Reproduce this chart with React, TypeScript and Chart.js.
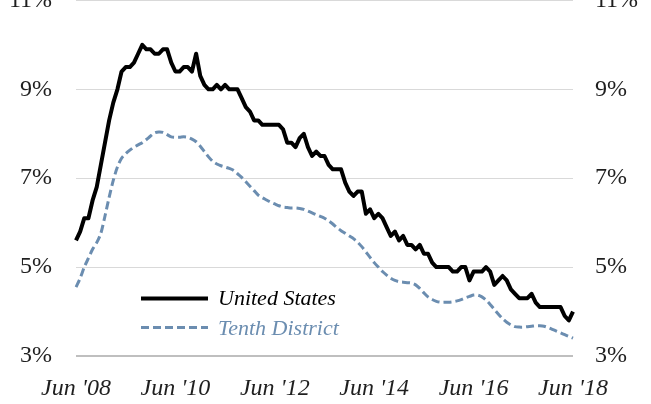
import { useEffect, useRef } from 'react';
import { Chart, registerables } from 'chart.js';

Chart.register(...registerables);

const MONTHS = ['Jan', 'Feb', 'Mar', 'Apr', 'May', 'Jun', 'Jul', 'Aug', 'Sep', 'Oct', 'Nov', 'Dec'];

// Monthly categories Jun 2008 .. Jun 2018
const categories: string[] = [];
for (let i = 0; i < 121; i++) {
  const m = (5 + i) % 12;
  const y = 2008 + Math.floor((5 + i) / 12);
  categories.push(`${MONTHS[m]} '${String(y % 100).padStart(2, '0')}`);
}

const tickLabels = ["Jun '08", "Jun '10", "Jun '12", "Jun '14", "Jun '16", "Jun '18"];
const yTicks = [3, 5, 7, 9, 11];

const unitedStates = [
  5.6, 5.8, 6.1, 6.1, 6.5, 6.8, 7.3,
  7.8, 8.3, 8.7, 9.0, 9.4, 9.5, 9.5, 9.6, 9.8, 10.0, 9.9, 9.9,
  9.8, 9.8, 9.9, 9.9, 9.6, 9.4, 9.4, 9.5, 9.5, 9.4, 9.8, 9.3,
  9.1, 9.0, 9.0, 9.1, 9.0, 9.1, 9.0, 9.0, 9.0, 8.8, 8.6, 8.5,
  8.3, 8.3, 8.2, 8.2, 8.2, 8.2, 8.2, 8.1, 7.8, 7.8, 7.7, 7.9,
  8.0, 7.7, 7.5, 7.6, 7.5, 7.5, 7.3, 7.2, 7.2, 7.2, 6.9, 6.7,
  6.6, 6.7, 6.7, 6.2, 6.3, 6.1, 6.2, 6.1, 5.9, 5.7, 5.8, 5.6,
  5.7, 5.5, 5.5, 5.4, 5.5, 5.3, 5.3, 5.1, 5.0, 5.0, 5.0, 5.0,
  4.9, 4.9, 5.0, 5.0, 4.7, 4.9, 4.9, 4.9, 5.0, 4.9, 4.6, 4.7,
  4.8, 4.7, 4.5, 4.4, 4.3, 4.3, 4.3, 4.4, 4.2, 4.1, 4.1, 4.1,
  4.1, 4.1, 4.1, 3.9, 3.8, 4.0,
];

const tenthDistrict = [
  4.55, 4.75, 5.0, 5.2, 5.4, 5.55, 5.76,
  6.15, 6.57, 6.95, 7.25, 7.45, 7.55, 7.63, 7.7, 7.75, 7.8, 7.87, 7.95,
  8.02, 8.04, 8.03, 7.98, 7.93, 7.92, 7.92, 7.93, 7.92, 7.88, 7.82, 7.72,
  7.6, 7.48, 7.38, 7.32, 7.28, 7.25, 7.22, 7.18, 7.1, 7.02, 6.92, 6.82,
  6.72, 6.62, 6.56, 6.51, 6.46, 6.42, 6.38, 6.35, 6.34, 6.33, 6.33, 6.32,
  6.3, 6.26, 6.22, 6.18, 6.14, 6.1, 6.04, 5.97, 5.89, 5.82, 5.76, 5.7,
  5.64, 5.56, 5.46, 5.34, 5.22, 5.1, 5.0, 4.9, 4.82, 4.75, 4.7, 4.67,
  4.66, 4.65, 4.64, 4.6, 4.52, 4.42, 4.33, 4.27, 4.23, 4.21, 4.21, 4.21,
  4.22, 4.24, 4.27, 4.31, 4.34, 4.37, 4.37, 4.33, 4.26, 4.16, 4.05, 3.94,
  3.84, 3.76, 3.7, 3.66, 3.65, 3.65, 3.66, 3.67, 3.68, 3.68, 3.67, 3.64,
  3.6, 3.56, 3.52, 3.48, 3.44, 3.4,
];

const US_COLOR = '#000000';
const TENTH_COLOR = '#6b8db0';
const TEXT_COLOR = '#1f1f1f';
const FONT = "'Liberation Serif', 'Times New Roman', serif";

const legendPlugin = {
  id: 'customLegend',
  afterDatasetsDraw(chart: any) {
    const ctx = chart.ctx;
    const off = chart.chartArea.top;
    const items = [
      { label: chart.data.datasets[0].label, color: US_COLOR, width: 4, dash: [] as number[], lineY: 298, textY: 305, textColor: '#000000' },
      { label: chart.data.datasets[1].label, color: TENTH_COLOR, width: 3, dash: [8, 4], lineY: 327, textY: 335, textColor: TENTH_COLOR },
    ];
    ctx.save();
    for (const it of items) {
      ctx.beginPath();
      ctx.strokeStyle = it.color;
      ctx.lineWidth = it.width;
      ctx.setLineDash(it.dash);
      ctx.moveTo(141, off + it.lineY);
      ctx.lineTo(208, off + it.lineY);
      ctx.stroke();
      ctx.setLineDash([]);
      ctx.font = `italic 22px ${FONT}`;
      ctx.fillStyle = it.textColor;
      ctx.textAlign = 'left';
      ctx.textBaseline = 'alphabetic';
      ctx.fillText(it.label, 218, off + it.textY);
    }
    ctx.restore();
  },
};

function makeConfig(): any {
  const tickFont = { family: FONT, size: 24 };
  return {
    type: 'line',
    data: {
      labels: categories,
      datasets: [
        {
          label: 'United States',
          data: unitedStates,
          borderColor: US_COLOR,
          borderWidth: 4,
          pointRadius: 0,
          tension: 0,
          borderJoinStyle: 'round',
          yAxisID: 'y',
        },
        {
          label: 'Tenth District',
          data: tenthDistrict,
          borderColor: TENTH_COLOR,
          borderWidth: 3,
          borderDash: [8, 4],
          pointRadius: 0,
          tension: 0.3,
          yAxisID: 'y',
        },
      ],
    },
    options: {
      animation: false,
      responsive: false,
      maintainAspectRatio: false,
      layout: { padding: 0 },
      plugins: {
        legend: { display: false },
        tooltip: { enabled: false },
      },
      scales: {
        x: {
          type: 'category',
          offset: false,
          grid: { display: false, drawTicks: false },
          border: { display: false },
          afterFit: (s: any) => { s.height = 50; },
          ticks: {
            autoSkip: false,
            maxRotation: 0,
            minRotation: 0,
            padding: 18,
            color: TEXT_COLOR,
            font: { ...tickFont, style: 'italic' },
            callback: (_v: any, i: number) => (i % 24 === 0 ? tickLabels[i / 24] : ''),
          },
        },
        y: {
          position: 'left',
          min: 3,
          max: 11,
          afterFit: (s: any) => { s.width = 76; },
          afterBuildTicks: (s: any) => { s.ticks = yTicks.map((v) => ({ value: v })); },
          grid: {
            drawTicks: false,
            color: (c: any) => (c.tick && c.tick.value === 3 ? '#bfbfbf' : '#d9d9d9'),
            lineWidth: (c: any) => (c.tick && c.tick.value === 3 ? 2 : 1),
          },
          border: { display: false },
          ticks: {
            padding: 24,
            color: TEXT_COLOR,
            font: tickFont,
            callback: (v: any) => `${v}%`,
          },
        },
        y2: {
          position: 'right',
          min: 3,
          max: 11,
          afterFit: (s: any) => { s.width = 78; },
          afterBuildTicks: (s: any) => { s.ticks = yTicks.map((v) => ({ value: v })); },
          grid: { display: false, drawTicks: false },
          border: { display: false },
          ticks: {
            padding: 22,
            color: TEXT_COLOR,
            font: tickFont,
            callback: (v: any) => `${v}%`,
          },
        },
      },
    },
    plugins: [legendPlugin],
  };
}

export default function App() {
  const ref = useRef<HTMLCanvasElement | null>(null);

  useEffect(() => {
    const canvas = ref.current;
    if (!canvas) return;
    const build = (h: number) => {
      canvas.width = 651;
      canvas.height = h;
      canvas.style.width = '651px';
      canvas.style.height = `${h}px`;
      return new Chart(canvas, makeConfig());
    };
    let chart = build(480);
    const top = Math.round(chart.chartArea.top);
    chart.destroy();
    const h = top + 356 + 50;
    chart = build(h);
    canvas.style.top = `${-top}px`;
    return () => {
      chart.destroy();
    };
  }, []);

  return (
    <div
      style={{
        position: 'fixed',
        left: 0,
        top: 0,
        width: 651,
        height: 404,
        overflow: 'hidden',
        background: '#ffffff',
      }}
    >
      <canvas ref={ref} style={{ position: 'absolute', left: 0, top: 0 }} />
    </div>
  );
}
